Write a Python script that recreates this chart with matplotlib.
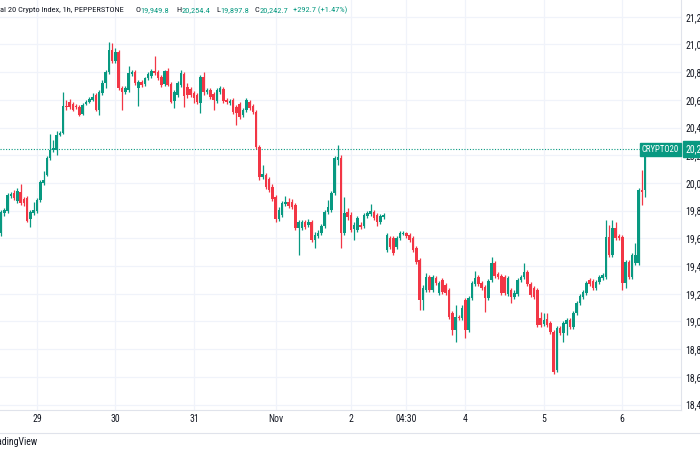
import matplotlib
matplotlib.use("Agg")
import matplotlib.pyplot as plt
import matplotlib.transforms as mtransforms
from matplotlib import font_manager
import numpy as np

# ---------------- data (hourly candles, CRYPTO20) ----------------
opens = [
    19639, 19783, 19798, 19906, 19928, 19870, 19935, 19884, 19891, 19740,
    19783, 19798, 19877, 20000, 20058, 20180, 20238, 20238, 20346, 20361,
    20556, 20585, 20570, 20556, 20548, 20498, 20570, 20585, 20599, 20635,
    20527, 20650, 20722, 20801, 20960, 20881, 20946, 20686, 20657, 20671,
    20787, 20801, 20686, 20729, 20715, 20758, 20772, 20808, 20801, 20765,
    20715, 20808, 20715, 20592, 20635, 20707, 20787, 20693, 20678, 20650,
    20635, 20577, 20765, 20657, 20671, 20642, 20592, 20657, 20678, 20599,
    20577, 20599, 20548, 20570, 20491, 20527, 20585, 20556, 20512, 20260,
    20043, 20058, 20029, 19971, 19899, 19740, 19769, 19848, 19863, 19863,
    19841, 19675, 19675, 19718, 19697, 19718, 19588, 19617, 19639, 19689,
    19790, 19805, 19928, 20166, 20180, 19639, 19790, 19769, 19668, 19660,
    19697, 19689, 19761, 19776, 19790, 19769, 19718, 19754, 19516, 19603,
    19603, 19538, 19603, 19632, 19639, 19624, 19603, 19530, 19444, 19155,
    19227, 19321, 19227, 19314, 19206, 19300, 19263, 19227, 19061, 18939,
    19032, 19025, 19155, 18939, 19170, 19271, 19321, 19278, 19249, 19170,
    19300, 19422, 19343, 19328, 19321, 19198, 19227, 19177, 19198, 19300,
    19321, 19357, 19271, 19242, 19227, 19025, 18982, 19018, 18989, 18924,
    18650, 18953, 18918, 18982, 19011, 18960, 19061, 19133, 19177, 19206,
    19300, 19292, 19242, 19285, 19314, 19321, 19610, 19480, 19675, 19617,
    19610, 19278, 19429, 19321, 19422, 19422, 19949, 19949.8,
]
highs = [
    19805, 19819, 19928, 19935, 19949, 19964, 19993, 19899, 19906, 19805,
    19863, 19891, 20021, 20086, 20195, 20354, 20310, 20375, 20375, 20657,
    20599, 20606, 20585, 20570, 20563, 20577, 20599, 20621, 20650, 20650,
    20671, 20743, 20816, 21018, 21011, 20974, 20960, 20700, 20700, 20844,
    20816, 20816, 20743, 20743, 20765, 20801, 20823, 20917, 20816, 20780,
    20816, 20830, 20729, 20671, 20736, 20816, 20801, 20722, 20693, 20664,
    20650, 20780, 20801, 20686, 20686, 20657, 20686, 20700, 20693, 20613,
    20606, 20613, 20563, 20585, 20541, 20613, 20599, 20570, 20527, 20274,
    20130, 20072, 20043, 19993, 19913, 19826, 19870, 19906, 19891, 19884,
    19855, 19733, 19733, 19733, 19740, 19733, 19646, 19660, 19704, 19805,
    19877, 19942, 20195, 20274, 20202, 19899, 19819, 19790, 19718, 19761,
    19718, 19783, 19798, 19848, 19805, 19783, 19776, 19783, 19639, 19617,
    19617, 19617, 19653, 19653, 19646, 19639, 19617, 19545, 19458, 19263,
    19350, 19336, 19336, 19328, 19292, 19314, 19278, 19242, 19075, 19119,
    19047, 19119, 19170, 19184, 19292, 19364, 19336, 19292, 19263, 19307,
    19465, 19437, 19357, 19343, 19336, 19328, 19242, 19227, 19314, 19336,
    19422, 19372, 19285, 19256, 19242, 19068, 19061, 19061, 19003, 18939,
    18967, 18967, 19003, 19025, 19025, 19075, 19148, 19198, 19227, 19292,
    19314, 19307, 19300, 19336, 19350, 19733, 19697, 19733, 19718, 19632,
    19624, 19444, 19444, 19494, 19567, 19964, 20094, 20254.4,
]
lows = [
    19617, 19761, 19783, 19891, 19877, 19855, 19841, 19834, 19718, 19682,
    19769, 19783, 19863, 19985, 20050, 20166, 20224, 20202, 20339, 20354,
    20527, 20534, 20520, 20534, 20483, 20491, 20563, 20577, 20592, 20520,
    20491, 20635, 20686, 20787, 20866, 20866, 20671, 20527, 20642, 20657,
    20772, 20707, 20556, 20693, 20700, 20743, 20758, 20780, 20743, 20693,
    20700, 20700, 20577, 20541, 20621, 20693, 20548, 20613, 20621, 20577,
    20570, 20505, 20635, 20642, 20606, 20527, 20577, 20642, 20577, 20570,
    20563, 20498, 20419, 20462, 20476, 20512, 20527, 20498, 20245, 20021,
    20029, 19956, 19935, 19870, 19718, 19725, 19754, 19834, 19819, 19812,
    19660, 19480, 19660, 19668, 19682, 19574, 19530, 19603, 19624, 19675,
    19776, 19790, 19913, 20130, 19530, 19624, 19733, 19646, 19588, 19646,
    19668, 19675, 19747, 19761, 19733, 19689, 19704, 19740, 19502, 19523,
    19480, 19523, 19588, 19624, 19603, 19574, 19502, 19415, 19083, 19083,
    19213, 19213, 19213, 19263, 19191, 19198, 19191, 19018, 18902, 18852,
    19011, 19011, 18881, 18924, 19155, 19256, 19256, 19227, 19068, 19155,
    19285, 19314, 19307, 19191, 19191, 19184, 19133, 19162, 19184, 19285,
    19307, 19256, 19177, 19162, 18960, 18960, 18967, 18960, 18910, 18621,
    18635, 18902, 18852, 18902, 18946, 18946, 19047, 19119, 19162, 19191,
    19256, 19227, 19227, 19271, 19300, 19307, 19465, 19465, 19588, 19588,
    19227, 19242, 19307, 19307, 19408, 19408, 19841, 19897.8,
]
closes = [
    19790, 19805, 19913, 19920, 19891, 19942, 19855, 19855, 19725, 19790,
    19805, 19877, 20007, 20021, 20180, 20238, 20252, 20346, 20361, 20556,
    20548, 20548, 20527, 20548, 20491, 20563, 20585, 20606, 20621, 20527,
    20657, 20722, 20801, 20960, 20881, 20946, 20686, 20657, 20686, 20794,
    20801, 20722, 20729, 20707, 20758, 20787, 20808, 20794, 20758, 20707,
    20808, 20707, 20585, 20657, 20722, 20794, 20628, 20635, 20635, 20613,
    20585, 20765, 20657, 20671, 20621, 20599, 20671, 20686, 20592, 20585,
    20592, 20512, 20505, 20476, 20527, 20599, 20541, 20512, 20260, 20043,
    20065, 19971, 19949, 19884, 19740, 19805, 19855, 19863, 19834, 19826,
    19675, 19718, 19718, 19682, 19718, 19588, 19624, 19639, 19689, 19790,
    19826, 19928, 20180, 20188, 19639, 19783, 19754, 19660, 19697, 19747,
    19682, 19769, 19783, 19798, 19747, 19718, 19761, 19769, 19624, 19538,
    19494, 19603, 19639, 19639, 19617, 19588, 19516, 19429, 19155, 19242,
    19321, 19227, 19321, 19278, 19278, 19213, 19206, 19032, 18939, 19032,
    19025, 19097, 18939, 19170, 19278, 19314, 19271, 19242, 19170, 19292,
    19422, 19328, 19321, 19206, 19206, 19314, 19177, 19206, 19300, 19321,
    19357, 19271, 19191, 19177, 18975, 18975, 19011, 18975, 18924, 18635,
    18953, 18918, 18989, 19011, 18960, 19061, 19133, 19184, 19213, 19278,
    19271, 19242, 19285, 19321, 19336, 19610, 19480, 19675, 19603, 19603,
    19278, 19429, 19321, 19480, 19480, 19949, 19935, 20242.7,
]

time_tick_index = [11, 35, 59, 84, 107, 124, 142, 166, 190]
time_tick_labels = ["29", "30", "31", "Nov", "2", "04:30", "4", "5", "6"]
price_ticks = [18400, 18600, 18800, 19000, 19200, 19400, 19600, 19800,
               20000, 20200, 20400, 20600, 20800, 21000, 21200]
price_tick_labels = ["18,400.0", "18,600.0", "18,800.0", "19,000.0", "19,200.0",
                     "19,400.0", "19,600.0", "19,800.0", "20,000.0", "20,200.0",
                     "20,400.0", "20,600.0", "20,800.0", "21,000.0", "21,200.0"]
symbol = "CRYPTO20"
title_text = "al 20 Crypto Index, 1h, PEPPERSTONE"
ohlc_letters = ["O", "H", "L", "C"]
ohlc_values = ["19,949.8", "20,254.4", "19,897.8", "20,242.7"]
change_text = "+292.7 (+1.47%)"
last_price = 20242.7
last_price_label = "20,242.7"

# ---------------- style ----------------
GREEN = "#089981"
RED = "#F23645"
GRID = "#f0f3fa"
TEXT = "#131722"
names = {f.name for f in font_manager.fontManager.ttflist}
narrow = [n for n in ["Liberation Sans Narrow", "Roboto Condensed", "Open Sans Condensed",
                      "Roboto", "Lato"] if n in names]
FONT = narrow[:1] + ["DejaVu Sans"]
plt.rcParams["font.family"] = FONT

W, H = 700, 450
fig = plt.figure(figsize=(W / 100, H / 100), dpi=100)
fig.patch.set_facecolor("white")
renderer = fig.canvas.get_renderer()

ax_right_px = 681
ax_bottom_px = 410
ax = fig.add_axes([0, (H - ax_bottom_px) / H, ax_right_px / W, ax_bottom_px / H])

o = np.array(opens, float)
h = np.array(highs, float)
l = np.array(lows, float)
c = np.array(closes, float)
x = np.arange(len(o))
up = c >= o
colors = np.where(up, GREEN, RED)

body = c - o
min_body = 7.0
body = np.where(np.abs(body) < min_body, np.where(up, min_body, -min_body), body)

ax.vlines(x, l, h, colors=colors, linewidth=0.9, zorder=3)
ax.bar(x, body, bottom=o, width=0.78, color=colors, edgecolor=colors,
       linewidth=0.0, zorder=4)

# pixel mapping: candle i centred at 1 + 3.27*i px
step = 3.27
ax.set_xlim((0 - 1) / step, (ax_right_px - 1) / step)
ax.set_ylim(18361, 21321)

ax.set_xticks(time_tick_index)
ax.set_xticklabels(time_tick_labels, fontsize=7, color=TEXT)
ax.yaxis.tick_right()
ax.set_yticks(price_ticks)
ax.set_yticklabels(price_tick_labels, fontsize=7, color=TEXT)
ax.tick_params(axis="x", length=0, pad=3)
ax.tick_params(axis="y", length=0, pad=3)
ax.grid(True, color=GRID, linewidth=0.9, zorder=0)
ax.set_axisbelow(True)
for s in ["left", "top"]:
    ax.spines[s].set_visible(False)
for s in ["right", "bottom"]:
    ax.spines[s].set_color("#e0e3eb")
    ax.spines[s].set_linewidth(0.8)

# last price dotted line
ax.axhline(last_price, color=GREEN, linestyle=(0, (1, 1.5)), linewidth=0.8, zorder=2)

trans = mtransforms.blended_transform_factory(ax.transAxes, ax.transData)
ax.text(679 / ax_right_px, last_price, symbol, transform=trans, ha="right", va="center",
        fontsize=6.3, color="white", zorder=6,
        bbox=dict(boxstyle="square,pad=0.25", facecolor=GREEN, edgecolor=GREEN))
ax.text(686 / ax_right_px, last_price, last_price_label, transform=trans, ha="left",
        va="center", fontsize=7, color="white", zorder=6, clip_on=False,
        bbox=dict(boxstyle="square,pad=0.3", facecolor=GREEN, edgecolor=GREEN))


# header: fit the font size so the title spans the same width as the reference
def text_width(t, size):
    tt = fig.text(0, 0, t, fontsize=size)
    w = tt.get_window_extent(renderer).width
    tt.remove()
    return w


base = 7.0
head_size = base * 126.0 / text_width(title_text, base)
y_head = 1 - 10 / H
fig.text(0 / W, y_head, title_text, fontsize=head_size, color=TEXT, va="center", ha="left")
letter_px = [135, 176, 216, 254]
for lx, lt, lv in zip(letter_px, ohlc_letters, ohlc_values):
    fig.text(lx / W, y_head, lt, fontsize=head_size, color=TEXT, va="center", ha="left")
    lw_ = text_width(lt, head_size)
    fig.text((lx + lw_ + 0.5) / W, y_head, lv, fontsize=head_size, color=GREEN,
             va="center", ha="left")
fig.text(293 / W, y_head, change_text, fontsize=head_size, color=GREEN, va="center", ha="left")

# bottom strip
fig.add_artist(plt.Line2D([0, 1], [1 - 433 / H, 1 - 433 / H], color="#e0e3eb",
                          linewidth=0.8, transform=fig.transFigure))
fig.text(-10 / W, 1 - 442 / H, "TradingView", fontsize=7, color=TEXT, va="center", ha="left")

fig.savefig("out.png", dpi=100, facecolor="white")
